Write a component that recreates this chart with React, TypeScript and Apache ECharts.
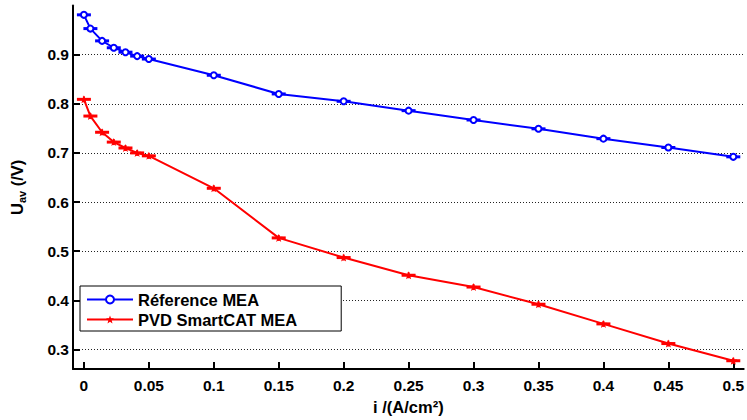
import React, { useEffect, useRef } from "react";
import * as echarts from "echarts";

const currentDensity = [0, 0.005, 0.014, 0.023, 0.032, 0.041, 0.05, 0.1, 0.15, 0.2, 0.25, 0.3, 0.35, 0.4, 0.45, 0.5];
const refVoltage = [0.981, 0.953, 0.928, 0.914, 0.905, 0.897, 0.891, 0.858, 0.82, 0.805, 0.786, 0.767, 0.749, 0.729, 0.711, 0.692];
const pvdVoltage = [0.809, 0.775, 0.742, 0.722, 0.71, 0.7, 0.694, 0.628, 0.527, 0.487, 0.451, 0.427, 0.392, 0.352, 0.312, 0.277];
const xTicks = [0, 0.05, 0.1, 0.15, 0.2, 0.25, 0.3, 0.35, 0.4, 0.45, 0.5];
const yTicks = [0.3, 0.4, 0.5, 0.6, 0.7, 0.8, 0.9];
const seriesNames = ["Réference MEA", "PVD SmartCAT MEA"];

const FONT = "'Liberation Sans', Arial, sans-serif";
const BLUE = "#0000ff";
const RED = "#ff0000";
const STAR = "path://M0,-5 L1.3,-1.7 L5,-1.6 L2.1,0.7 L3.1,4.5 L0,2.3 L-3.1,4.5 L-2.1,0.7 L-5,-1.6 L-1.3,-1.7 Z";

function capSeries(name: string, values: number[], color: string) {
  return {
    type: "custom",
    name: name + " err",
    z: 3,
    data: currentDensity.map((x, i) => [x, values[i]]),
    renderItem: (_p: any, api: any) => {
      const p = api.coord([api.value(0), api.value(1)]);
      return {
        type: "group",
        children: [
          { type: "rect", shape: { x: p[0] - 7, y: p[1] - 1.5, width: 14, height: 3 }, style: { fill: color } },
          { type: "line", shape: { x1: p[0], y1: p[1] - 3, x2: p[0], y2: p[1] + 3 }, style: { stroke: color, lineWidth: 2 } },
        ],
      };
    },
  };
}

export default function App() {
  const ref = useRef<HTMLDivElement>(null);
  useEffect(() => {
    document.body.style.margin = "0";
    const chart = echarts.init(ref.current!, undefined, { renderer: "svg" });
    chart.setOption({
      animation: false,
      backgroundColor: "#ffffff",
      textStyle: { fontFamily: FONT },
      grid: { left: 69, right: 0, top: 5.5, bottom: 42, containLabel: false },
      legend: {
        show: true,
        data: seriesNames,
        orient: "vertical",
        left: 80,
        top: 286,
        padding: [5, 44, 3, 6],
        itemGap: 3,
        itemWidth: 46,
        itemHeight: 10,
        backgroundColor: "#ffffff",
        borderColor: "#000000",
        borderWidth: 1,
        borderRadius: 0,
        textStyle: { fontFamily: FONT, fontSize: 16.5, fontWeight: "bold", color: "#000" },
      },
      xAxis: {
        type: "value",
        min: -0.0084,
        max: 0.508,
        name: "i /(A/cm²)",
        nameLocation: "middle",
        nameGap: 24,
        nameTextStyle: { fontFamily: FONT, fontSize: 16.5, fontWeight: "bold", color: "#000" },
        axisLine: { show: true, onZero: false, lineStyle: { color: "#000", width: 2 } },
        axisTick: { show: true, inside: true, length: 7, customValues: xTicks, lineStyle: { color: "#000", width: 2 } },
        axisLabel: {
          customValues: xTicks,
          margin: 8,
          fontFamily: FONT,
          fontSize: 15.5,
          fontWeight: "bold",
          color: "#000",
          formatter: (v: number) => String(Math.round(v * 100) / 100),
        },
        splitLine: { show: false },
      },
      yAxis: {
        type: "value",
        min: 0.26,
        max: 1.0,
        name: "{u|U}{s|av}{u| (/V)}",
        nameLocation: "middle",
        nameGap: 46,
        nameTextStyle: {
          color: "#000",
          rich: {
            u: { fontFamily: FONT, fontSize: 16.5, fontWeight: "bold", color: "#000", lineHeight: 20 },
            s: { fontFamily: FONT, fontSize: 11, fontWeight: "bold", color: "#000", verticalAlign: "bottom", lineHeight: 20, padding: [8, 0, 0, 0] },
          },
        },
        axisLine: { show: true, onZero: false, lineStyle: { color: "#000", width: 2 } },
        axisTick: { show: true, inside: true, length: 7, customValues: yTicks, lineStyle: { color: "#000", width: 2 } },
        axisLabel: {
          customValues: yTicks,
          margin: 4,
          fontFamily: FONT,
          fontSize: 15.5,
          fontWeight: "bold",
          color: "#000",
          formatter: (v: number) => v.toFixed(1),
        },
        splitLine: { show: true, lineStyle: { color: "#222", width: 1, type: [1, 2] } },
      },
      series: [
        {
          type: "line",
          name: seriesNames[0],
          data: currentDensity.map((x, i) => [x, refVoltage[i]]),
          color: BLUE,
          lineStyle: { color: BLUE, width: 2 },
          symbol: "emptyCircle",
          symbolSize: 6,
          itemStyle: { color: BLUE, borderColor: BLUE, borderWidth: 2 },
          z: 4,
        },
        {
          type: "line",
          name: seriesNames[1],
          data: currentDensity.map((x, i) => [x, pvdVoltage[i]]),
          color: RED,
          lineStyle: { color: RED, width: 2 },
          symbol: STAR,
          symbolSize: 8,
          itemStyle: { color: RED },
          z: 4,
        },
        capSeries(seriesNames[0], refVoltage, BLUE),
        capSeries(seriesNames[1], pvdVoltage, RED),
      ],
    });
    return () => chart.dispose();
  }, []);
  return <div ref={ref} style={{ width: 747, height: 420 }} />;
}
